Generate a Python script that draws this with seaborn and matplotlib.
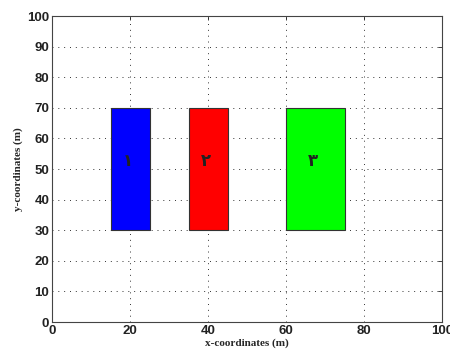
import matplotlib
matplotlib.use("Agg")
import matplotlib.pyplot as plt
import seaborn as sns
import numpy as np

# Data
region_labels = ["۱", "۲", "۳"]
x_left = [15, 35, 60]
x_right = [25, 45, 75]
y_bottom = [30, 30, 30]
y_top = [70, 70, 70]
colors = ["#0000ff", "#ff0000", "#00ff00"]
x_ticks = [0, 20, 40, 60, 80, 100]
y_ticks = [0, 10, 20, 30, 40, 50, 60, 70, 80, 90, 100]

sns.set_theme(style="white")
plt.rcParams['font.family'] = ['Liberation Sans', 'DejaVu Sans']

fig = plt.figure(figsize=(4.5, 3.52), dpi=100)
ax = fig.add_axes([0.1156, 0.0852, 0.8667, 0.8693])

widths = np.array(x_right) - np.array(x_left)
heights = np.array(y_top) - np.array(y_bottom)
centers = np.array(x_left) + widths / 2
ax.bar(centers, heights, width=widths, bottom=y_bottom, color=colors,
       edgecolor="#333333", linewidth=0.8, zorder=2)
for c, lab, b, h in zip(centers, region_labels, y_bottom, heights):
    ax.text(c - 0.5, b + h / 2 + 2.5, lab, ha="center", va="center",
            fontsize=12, fontweight="bold", color="#222222",
            family=["DejaVu Sans"], zorder=3)

ax.set_xlim(0, 100)
ax.set_ylim(0, 100)
ax.set_xticks(x_ticks)
ax.set_yticks(y_ticks)
ax.grid(True, linestyle=(0, (1, 5)), color="#333333", linewidth=0.7, zorder=0)
ax.set_axisbelow(True)
ax.tick_params(axis="both", direction="in", length=3, width=0.6,
               labelsize=9.5, pad=2, colors="#222222", top=True, right=True)
for lab in ax.get_xticklabels() + ax.get_yticklabels():
    lab.set_fontweight("bold")
for s in ax.spines.values():
    s.set_color("#444444")
    s.set_linewidth(0.8)
ax.set_xlabel("x-coordinates (m)", family=["Liberation Serif"], fontweight="bold",
              fontsize=8, labelpad=1)
ax.set_ylabel("y-coordinates (m)", family=["Liberation Serif"], fontweight="bold",
              fontsize=8, labelpad=3)

fig.savefig("out.png", dpi=100, facecolor="white")
